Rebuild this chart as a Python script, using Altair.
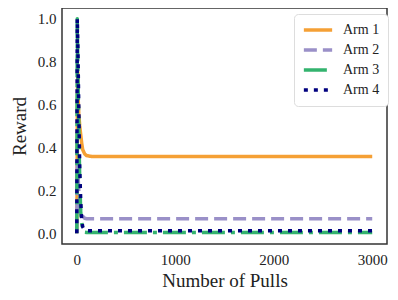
import altair as alt
import pandas as pd

arms = ["Arm 1", "Arm 2", "Arm 3", "Arm 4"]
colors = ["#f5a035", "#9a90c8", "#33b36e", "#00007f"]
dashes = [[1, 0], [13, 6], [23, 6, 4, 6], [4, 6]]

arm1_x = [0, 3, 6, 10, 15, 20, 30, 40, 50, 60, 80, 100, 150, 3000]
arm1_y = [0.0, 0.2, 0.6, 0.75, 0.62, 0.56, 0.5, 0.46, 0.42, 0.39, 0.37, 0.362, 0.358, 0.358]

arm2_x = [0, 5, 10, 20, 30, 40, 60, 80, 100, 3000]
arm2_y = [0.0, 0.35, 0.3, 0.2, 0.15, 0.1, 0.08, 0.07, 0.068, 0.068]

arm3_x = [0, 5, 10, 20, 30, 40, 50, 60, 80, 100, 3000]
arm3_y = [0.0, 1.0, 0.8, 0.5, 0.25, 0.1, 0.05, 0.02, 0.005, 0.004, 0.004]

arm4_x = [0, 5, 10, 20, 30, 40, 50, 60, 80, 100, 3000]
arm4_y = [0.0, 1.0, 0.9, 0.6, 0.3, 0.15, 0.06, 0.03, 0.015, 0.012, 0.012]

rows = []
for name, xs, ys in zip(arms, [arm1_x, arm2_x, arm3_x, arm4_x], [arm1_y, arm2_y, arm3_y, arm4_y]):
    for i, (x, y) in enumerate(zip(xs, ys)):
        rows.append({"arm": name, "pulls": x, "reward": y, "order": i})
df = pd.DataFrame(rows)

FONT = "Liberation Serif"

chart = alt.Chart(df).mark_line(strokeWidth=3.5, strokeCap="butt", strokeJoin="round").encode(
    x=alt.X("pulls:Q", title="Number of Pulls",
            scale=alt.Scale(domain=[-150, 3150], nice=False, zero=False),
            axis=alt.Axis(values=[0, 1000, 2000, 3000], format="d", grid=False, ticks=False,
                          labelPadding=8, titlePadding=4, domain=False)),
    y=alt.Y("reward:Q", title="Reward",
            scale=alt.Scale(domain=[-0.05, 1.05], nice=False, zero=False),
            axis=alt.Axis(values=[0, 0.2, 0.4, 0.6, 0.8, 1.0], format=".1f", grid=False, ticks=False,
                          labelPadding=6, titlePadding=8, domain=False)),
    color=alt.Color("arm:N", scale=alt.Scale(domain=arms, range=colors),
                    legend=alt.Legend(title=None, orient="none", legendX=232, legendY=6,
                                      symbolType="stroke", symbolStrokeWidth=3.5, symbolSize=800,
                                      clipHeight=16, rowPadding=4,
                                      fillColor="white", strokeColor="#dddddd", cornerRadius=4,
                                      padding=8, labelOffset=9)),
    strokeDash=alt.StrokeDash("arm:N", scale=alt.Scale(domain=arms, range=dashes), legend=None),
    order="order:Q",
).properties(
    width=325, height=236,
    autosize=alt.AutoSizeParams(type="none"),
    padding={"left": 54, "top": 0, "right": 3, "bottom": 50},
).configure(
    font=FONT
).configure_view(
    stroke="#333333", strokeWidth=1.5
).configure_axis(
    labelFont=FONT, titleFont=FONT, labelFontSize=15, titleFontSize=19,
    labelColor="#222222", titleColor="#222222", titleFontWeight="normal"
).configure_legend(
    labelFont=FONT, labelFontSize=14, labelColor="#222222"
)

chart.save("out.html", embed_options={"renderer": "svg", "actions": False})
